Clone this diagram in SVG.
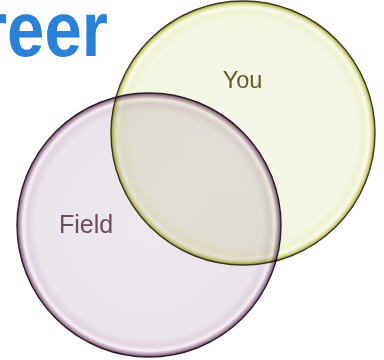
<svg xmlns="http://www.w3.org/2000/svg" width="384" height="360" viewBox="0 0 384 360">
  <defs>
    <radialGradient id="gYou" cx="0.5" cy="0.5" r="0.5">
      <stop offset="0" stop-color="#f5f8ea"/>
      <stop offset="0.86" stop-color="#f2f5e2"/>
      <stop offset="0.92" stop-color="#eef2d2"/>
      <stop offset="0.955" stop-color="#f7f9ea"/>
      <stop offset="0.975" stop-color="#dfe49e"/>
      <stop offset="1" stop-color="#9ea24a"/>
    </radialGradient>
    <radialGradient id="gField" cx="0.5" cy="0.5" r="0.5">
      <stop offset="0" stop-color="#eee7ee"/>
      <stop offset="0.86" stop-color="#ece4eb"/>
      <stop offset="0.92" stop-color="#e2d4e0"/>
      <stop offset="0.955" stop-color="#f6f0f5"/>
      <stop offset="0.975" stop-color="#c2a8bd"/>
      <stop offset="1" stop-color="#6c4b67"/>
    </radialGradient>
    <style>
      .lbl { font-family: "Liberation Sans", Arial, sans-serif; text-anchor: middle; }
    </style>
  </defs>
  <rect width="384" height="360" fill="#ffffff"/>
  <g id="title">
    <text transform="translate(-19,56) scale(0.86,1)" x="0" y="0" font-family="Liberation Sans, Arial, sans-serif" font-weight="bold" font-size="78" fill="#2b80d8">reer</text>
  </g>
  <g id="you">
    <circle cx="243" cy="133" r="132" fill="url(#gYou)" stroke="#3c3b1c" stroke-width="1.4"/>
    <text class="lbl" x="242.5" y="88" font-size="23.5" fill="#5f5d24">You</text>
  </g>
  <g id="field" style="mix-blend-mode:multiply">
    <circle cx="149" cy="225" r="132" fill="url(#gField)" stroke="#2e1f2c" stroke-width="1.4"/>
    <text class="lbl" x="86" y="233" font-size="25" fill="#6c4c62">Field</text>
  </g>
</svg>
